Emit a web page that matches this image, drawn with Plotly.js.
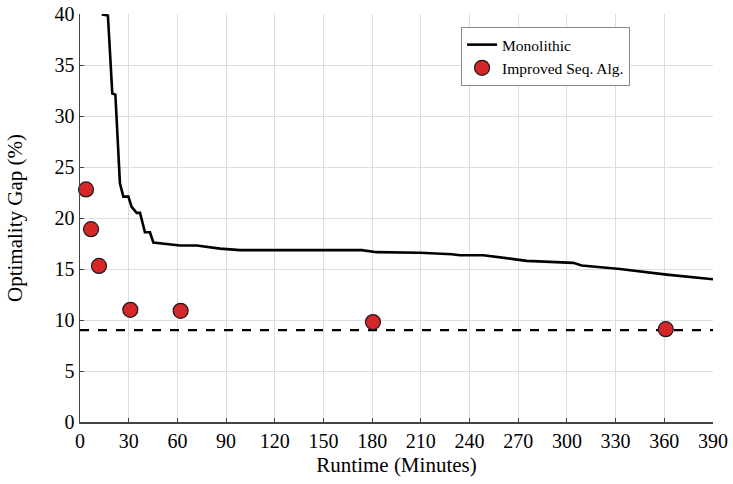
<!DOCTYPE html>
<html>
<head>
<meta charset="utf-8">
<script src="https://cdn.plot.ly/plotly-3.0.1.min.js"></script>
<style>html,body{margin:0;padding:0;background:#fff;}#chart{width:733px;height:484px;}</style>
</head>
<body>
<div id="chart"></div>
<script>
// Monolithic solver: optimality gap (%) over runtime (minutes)
const monoMinutes = [13.4, 17.2, 19.9, 21.8, 24.6, 26.7, 29.8, 31.8, 34.9, 37.0, 40.0, 43.1, 45.2, 55.5, 61.6, 71.9, 86.3, 98.6, 173.6, 182.8, 209.5, 229.0, 234.1, 248.5, 275.2, 303.9, 309.1, 332.7, 351.2, 361.5, 390.0];
const monoGap     = [39.95, 39.85, 32.2, 32.1, 23.4, 22.1, 22.1, 21.1, 20.5, 20.5, 18.6, 18.6, 17.6, 17.4, 17.3, 17.3, 17.0, 16.85, 16.85, 16.65, 16.6, 16.45, 16.35, 16.35, 15.8, 15.6, 15.35, 15.0, 14.6, 14.45, 14.0];
// Improved sequential algorithm results
const seqMinutes = [3.7, 6.8, 11.7, 31.0, 62.0, 180.5, 360.9];
const seqGap     = [22.8, 18.9, 15.3, 11.0, 10.9, 9.8, 9.1];
// Reference (best bound) line
const refMinutes = [0, 390];
const refGap     = [9.0, 9.0];
// Axis ticks
const xTicks = [0, 30, 60, 90, 120, 150, 180, 210, 240, 270, 300, 330, 360, 390];
const yTicks = [0, 5, 10, 15, 20, 25, 30, 35, 40];

const FONT = "'Liberation Serif', 'DejaVu Serif', serif";

const traces = [
  {
    x: refMinutes, y: refGap, mode: 'lines', showlegend: false, hoverinfo: 'skip',
    line: {color: '#000', width: 2.2, dash: 'dash'}
  },
  {
    x: monoMinutes, y: monoGap, mode: 'lines', name: 'Monolithic',
    line: {color: '#000', width: 2.6}
  },
  {
    x: seqMinutes, y: seqGap, mode: 'markers', name: 'Improved Seq. Alg.',
    cliponaxis: false,
    marker: {color: '#d62728', size: 15, line: {color: '#1a1a1a', width: 1.2}}
  }
];

const layout = {
  width: 733, height: 484,
  margin: {l: 80, r: 20, t: 14, b: 62},
  paper_bgcolor: '#fff', plot_bgcolor: '#fff',
  font: {family: FONT, size: 20, color: '#000'},
  showlegend: true,
  legend: {
    x: 0.602, y: 0.968, xanchor: 'left', yanchor: 'top',
    bgcolor: '#fff', bordercolor: '#888', borderwidth: 1,
    font: {family: FONT, size: 15.5, color: '#000'},
    tracegroupgap: 0
  },
  xaxis: {
    range: [0, 390], tickvals: xTicks, ticktext: xTicks.map(String),
    showgrid: true, gridcolor: '#dddddd', gridwidth: 1,
    zeroline: false, showline: true, linecolor: '#444', linewidth: 1.5,
    ticks: 'inside', ticklen: 4, tickcolor: '#444',
    title: {text: 'Runtime (Minutes)', font: {family: FONT, size: 21}, standoff: 7},
    automargin: false
  },
  yaxis: {
    range: [0, 40], tickvals: yTicks, ticktext: yTicks.map(String),
    showgrid: true, gridcolor: '#dddddd', gridwidth: 1,
    zeroline: false, showline: true, linecolor: '#444', linewidth: 1.5,
    ticks: 'inside', ticklen: 4, tickcolor: '#444',
    title: {text: 'Optimality Gap (%)', font: {family: FONT, size: 21}, standoff: 26},
    automargin: false
  }
};

Plotly.newPlot('chart', traces, layout, {displayModeBar: false, staticPlot: true});
</script>
</body>
</html>
